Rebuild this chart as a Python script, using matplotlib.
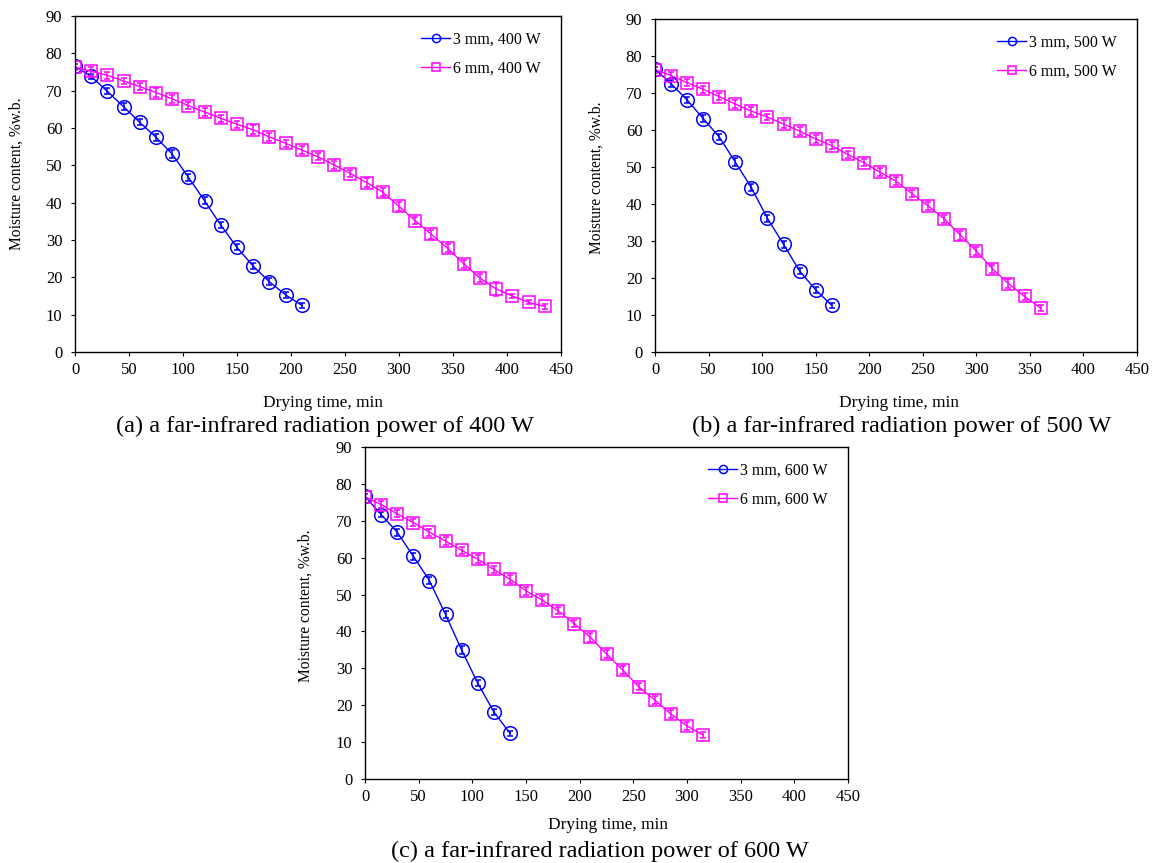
import numpy as np
import matplotlib.pyplot as plt

plt.rcParams['font.family'] = ['Liberation Serif', 'DejaVu Serif']
plt.rcParams['font.size'] = 10

W, H = 1153, 863

# panel (a) 400 W
t_a3 = np.arange(0, 211, 15)
mc_a3 = [76.5, 73.8, 69.8, 65.7, 61.5, 57.5, 53.0, 46.8, 40.5, 34.0, 28.0, 23.0, 18.8, 15.3, 12.5]
err_a3 = [0.6, 0.7, 0.8, 0.9, 0.8, 0.9, 1.0, 1.0, 0.9, 0.9, 0.8, 0.8, 0.9, 0.8, 0.7]
t_a6 = np.arange(0, 436, 15)
mc_a6 = [76.3, 75.2, 74.1, 72.6, 71.1, 69.5, 67.8, 66.0, 64.3, 62.6, 61.0, 59.5, 57.6, 55.9, 54.1,
         52.3, 50.1, 47.8, 45.4, 42.8, 39.0, 35.2, 31.5, 27.8, 23.6, 19.8, 16.9, 15.0, 13.3, 12.2]
err_a6 = [0.8, 1.2, 1.0, 0.9, 1.0, 1.1, 1.0, 0.9, 1.0, 1.0, 0.9, 1.2, 1.1, 1.0, 1.0,
          0.9, 1.0, 1.0, 1.3, 1.0, 1.1, 1.0, 1.1, 1.0, 1.0, 1.0, 1.8, 0.6, 0.5, 0.6]

# panel (b) 500 W
t_b3 = np.arange(0, 166, 15)
mc_b3 = [76.5, 72.5, 68.1, 63.1, 58.1, 51.3, 44.4, 36.1, 29.1, 21.9, 16.8, 12.6]
err_b3 = [0.6, 0.9, 0.8, 0.9, 0.8, 1.0, 1.0, 0.9, 1.0, 0.9, 0.8, 0.7]
t_b6 = np.arange(0, 361, 15)
mc_b6 = [76.3, 74.7, 72.8, 71.0, 69.0, 67.0, 65.1, 63.5, 61.6, 59.7, 57.6, 55.8, 53.4,
         51.2, 48.6, 46.2, 42.8, 39.5, 36.0, 31.6, 27.3, 22.5, 18.5, 15.0, 11.9]
err_b6 = [0.8, 1.0, 1.0, 1.0, 1.0, 1.0, 1.0, 0.9, 1.0, 1.0, 1.0, 1.0, 0.9,
          1.0, 1.0, 1.0, 1.0, 1.0, 1.1, 1.2, 1.1, 1.1, 1.1, 1.0, 0.7]

# panel (c) 600 W
t_c3 = np.arange(0, 136, 15)
mc_c3 = [76.6, 71.7, 66.9, 60.4, 53.8, 44.6, 35.0, 26.0, 18.2, 12.4]
err_c3 = [0.6, 0.8, 0.9, 0.9, 0.9, 1.0, 1.0, 0.9, 0.8, 0.7]
t_c6 = np.arange(0, 316, 15)
mc_c6 = [76.5, 74.4, 71.9, 69.5, 66.9, 64.5, 62.0, 59.6, 56.8, 54.2, 51.0,
         48.5, 45.6, 42.1, 38.4, 33.9, 29.6, 25.0, 21.4, 17.6, 14.4, 11.9]
err_c6 = [0.7, 1.0, 1.0, 1.0, 1.0, 1.0, 1.0, 1.0, 1.0, 1.0, 1.0,
          1.0, 1.0, 1.0, 1.2, 1.1, 1.1, 1.0, 1.0, 1.0, 1.0, 0.9]

panels = [
    # (left, top, right, bottom) in pixels, power, data
    ((75, 16, 561, 352), 400, t_a3, mc_a3, err_a3, t_a6, mc_a6, err_a6),
    ((655, 19, 1137, 352), 500, t_b3, mc_b3, err_b3, t_b6, mc_b6, err_b6),
    ((365, 447, 848, 779), 600, t_c3, mc_c3, err_c3, t_c6, mc_c6, err_c6),
]
captions = ['(a) a far-infrared radiation power of 400 W',
            '(b) a far-infrared radiation power of 500 W',
            '(c) a far-infrared radiation power of 600 W']
caption_pos = [(325, 426), (902, 426), (600, 851)]
xlabel_pos = [(323, 403), (899, 403), (608, 825)]
ylabel_pos = [(17, 174), (597, 178), (306, 606)]

fig = plt.figure(figsize=(W / 100, H / 100), dpi=100)

for k, (box, pw, t3, m3, e3, t6, m6, e6) in enumerate(panels):
    l, t, r, b = box
    ax = fig.add_axes([l / W, 1 - b / H, (r - l) / W, (b - t) / H])
    for tt, mm, ee, col, mk, ms, lab in [(t3, m3, e3, '#0000FF', 'o', 9.8, f'3 mm, {pw} W'),
                                         (t6, m6, e6, '#FF00FF', 's', 9.2, f'6 mm, {pw} W')]:
        ax.errorbar(tt, mm, yerr=ee, fmt='none', ecolor=col, capsize=2.2, elinewidth=1.1, capthick=1.1)
        ax.plot(tt, mm, color=col, marker=mk, ms=ms, mfc='none', mew=1.1, lw=1.0, label=lab)
    ax.set_xlim(0, 450)
    ax.set_ylim(0, 90)
    ax.set_xticks(np.arange(0, 451, 50))
    ax.set_yticks(np.arange(0, 91, 10))
    ax.tick_params(direction='out', length=3, width=0.8, labelsize=12)
    ax.tick_params(axis='x', pad=4)
    ax.tick_params(axis='y', pad=6)
    for s in ax.spines.values():
        s.set_linewidth(1.0)
    # legend: text right edge ~21 px inside the axes, first row ~25 px below the top
    ax.legend(loc='upper right', bbox_to_anchor=((r - 20) / W, 1 - (t + 16) / H),
              bbox_transform=fig.transFigure, frameon=False, fontsize=11.5,
              handlelength=1.8, markerscale=0.6, labelspacing=0.8,
              borderaxespad=0, borderpad=0, handletextpad=0.2)

    cx, cy = xlabel_pos[k]
    fig.text(cx / W, 1 - cy / H, 'Drying time, min', ha='center', va='center', fontsize=12.4)
    yx, yy = ylabel_pos[k]
    fig.text(yx / W, 1 - yy / H, 'Moisture content, %w.b.', rotation=90,
             ha='center', va='center', fontsize=11.2)
    px, py = caption_pos[k]
    fig.text(px / W, 1 - py / H, captions[k], ha='center', va='center', fontsize=17.5)

fig.savefig('out.png', dpi=100)
